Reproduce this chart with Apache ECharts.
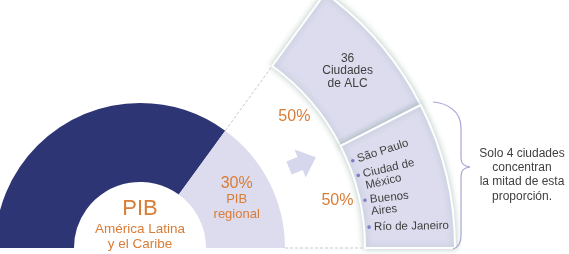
<!DOCTYPE html>
<html>
<head>
<meta charset="utf-8">
<script src="https://cdn.jsdelivr.net/npm/echarts@6/dist/echarts.min.js"></script>
<style>
  html, body { margin: 0; padding: 0; background: #fff; }
  #chart { width: 569px; height: 254px; }
</style>
</head>
<body>
<div id="chart"></div>
<script>
// --- data ---
const pibShares = [
  { name: 'Resto de la región', value: 70 },
  { name: 'PIB regional', value: 30 }
]
const cityShares = [
  { name: '36 Ciudades de ALC', value: 50 },
  { name: '4 ciudades', value: 50 }
]
const cities = ['São Paulo', 'Ciudad de\nMéxico', 'Buenos\nAires', 'Río de Janeiro']
const centerLines = ['PIB', 'América Latina', 'y el Caribe']
const noteText = 'Solo 4 ciudades\nconcentran\nla mitad de esta\nproporción.'

// --- layout ---
const cx = 140, cy = 248
const mainR = [66, 145]
const zoomR = [225, 315]
const navy = '#2d3574'
const lav = '#dcdcee'
const orange = '#d97c36'
const textGray = '#3f3f3f'
const font = 'Liberation Sans, Arial, sans-serif'

const pibTotal = pibShares.reduce((s, d) => s + d.value, 0)
// the zoomed ring spans the angle of the "PIB regional" slice
const spread = 180 * pibShares[1].value / pibTotal
const cityTotal = cityShares.reduce((s, d) => s + d.value, 0)
const hidden = { itemStyle: { color: 'transparent', borderWidth: 0, shadowBlur: 0 }, label: { show: false }, emphasis: { disabled: true } }

function polar(r, deg) {
  const a = deg * Math.PI / 180
  return [cx + r * Math.cos(a), cy - r * Math.sin(a)]
}

const chart = echarts.init(document.getElementById('chart'))

// city list positions: angle on the ring + text tilt
const cityLayout = [
  { angle: 22.3, tilt: 18 },
  { angle: 18.4, tilt: 13 },
  { angle: 12.0, tilt: 6 },
  { angle: 5.2, tilt: 1 }
]
const graphics = []

// dashed guides from the donut to the zoomed ring
;[spread, 0].forEach(a => {
  const p1 = polar(mainR[1], a), p2 = polar(zoomR[0], a)
  graphics.push({
    type: 'line', silent: true,
    shape: { x1: p1[0], y1: p1[1], x2: p2[0], y2: p2[1] },
    style: { stroke: '#c9c9c9', lineWidth: 1, lineDash: [3, 2] }
  })
})

// arrow
;(function () {
  const ax = 289, ay = 168, rot = 22 * Math.PI / 180
  const local = [[0, -7], [12, -7], [12, -15], [29, 0], [12, 15], [12, 7], [0, 7]]
  const pts = local.map(([x, y]) => [
    ax + x * Math.cos(rot) + y * Math.sin(rot),
    ay - x * Math.sin(rot) + y * Math.cos(rot)
  ])
  graphics.push({ type: 'polygon', silent: true, shape: { points: pts }, style: { fill: '#d6d6ec' } })
})()

// centre text
const centerY = [209, 229, 244]
const centerSize = [22, 13.5, 13.5]
centerLines.forEach((t, i) => {
  graphics.push({
    type: 'text', x: cx, y: centerY[i], silent: true,
    style: { text: t, fill: orange, font: centerSize[i] + 'px ' + font, align: 'center', verticalAlign: 'middle' }
  })
})

// city list
cities.forEach((c, i) => {
  const L = cityLayout[i]
  const b = polar(230, L.angle)
  const t = L.tilt * Math.PI / 180
  graphics.push({
    type: 'circle', silent: true,
    shape: { cx: b[0], cy: b[1], r: 1.8 },
    style: { fill: '#7b7fc4' }
  })
  c.split('\n').forEach((line, j) => {
    const sx = b[0] + 5 * Math.cos(t) + j * 12 * Math.sin(t)
    const sy = b[1] - 5 * Math.sin(t) + j * 12 * Math.cos(t)
    graphics.push({
      type: 'text', x: sx, y: sy, rotation: t, silent: true,
      style: { text: line, fill: textGray, font: '11.5px ' + font, align: 'left', verticalAlign: 'middle' }
    })
  })
})

// brace, built from curve and line pieces
const braceStyle = { stroke: '#a9a6d3', lineWidth: 1.2, fill: null }
const bez = (x1, y1, c1x, c1y, c2x, c2y, x2, y2) => ({
  type: 'bezierCurve', silent: true,
  shape: { x1, y1, cpx1: c1x, cpy1: c1y, cpx2: c2x, cpy2: c2y, x2, y2 },
  style: braceStyle
})
const seg = (x1, y1, x2, y2) => ({ type: 'line', silent: true, shape: { x1, y1, x2, y2 }, style: braceStyle })
graphics.push(
  bez(433, 102, 446, 103, 461, 110, 461, 128),
  seg(461, 128, 461, 158),
  bez(461, 158, 461, 164, 464, 166, 470, 167),
  bez(470, 167, 464, 168, 461, 170, 461, 176),
  seg(461, 176, 461, 236),
  bez(461, 236, 461, 243, 459, 247, 453, 249)
)

// note
graphics.push({
  type: 'text', x: 522, y: 175, silent: true,
  style: { text: noteText, fill: textGray, font: '12px ' + font, align: 'center', verticalAlign: 'middle', lineHeight: 14.3 }
})

graphics.forEach(g => { g.z = 100 })

const option = {
  backgroundColor: '#fff',
  animation: false,
  series: [
    {
      type: 'pie', silent: true,
      center: [cx, cy], radius: mainR,
      startAngle: 180, clockwise: true,
      avoidLabelOverlap: false,
      label: { show: false },
      labelLine: { show: false },
      data: [
        { ...pibShares[0], itemStyle: { color: navy } },
        {
          ...pibShares[1], itemStyle: { color: lav },
          label: {
            show: true, position: 'inside',
            formatter: p => '{a|' + p.value + '%}\n{b|PIB}\n{b|regional}',
            rich: {
              a: { fontSize: 16, color: orange, fontFamily: font, lineHeight: 16 },
              b: { fontSize: 13, color: orange, fontFamily: font, lineHeight: 15 }
            },
            textBorderWidth: 0
          }
        },
        { name: 'hidden', value: pibTotal, ...hidden }
      ]
    },
    {
      type: 'pie', silent: true,
      center: [cx, cy], radius: zoomR,
      startAngle: spread, clockwise: true,
      avoidLabelOverlap: false,
      label: { show: false },
      labelLine: { show: false },
      itemStyle: {
        color: lav, borderColor: '#fff', borderWidth: 2,
        shadowBlur: 6, shadowColor: 'rgba(110,150,140,0.45)'
      },
      data: [
        {
          ...cityShares[0],
          label: {
            show: true, position: 'inside',
            formatter: '36\nCiudades\nde ALC',
            color: textGray, fontSize: 12, fontFamily: font, lineHeight: 12.5,
            textBorderWidth: 0
          }
        },
        cityShares[1],
        { name: 'hidden', value: cityTotal * (360 / spread - 1), ...hidden }
      ]
    },
    {
      // percentage labels between the two rings
      type: 'pie', silent: true,
      center: [cx, cy], radius: [185, 215],
      startAngle: spread, clockwise: true,
      avoidLabelOverlap: false,
      labelLine: { show: false },
      itemStyle: { color: 'transparent' },
      label: {
        show: true, position: 'inside',
        formatter: p => p.value + '%',
        color: orange, fontSize: 16, fontFamily: font, textBorderWidth: 0
      },
      data: [
        cityShares[0],
        cityShares[1],
        { name: 'hidden', value: cityTotal * (360 / spread - 1), ...hidden }
      ]
    }
  ],
  graphic: graphics
}
chart.setOption(option)
</script>
</body>
</html>
